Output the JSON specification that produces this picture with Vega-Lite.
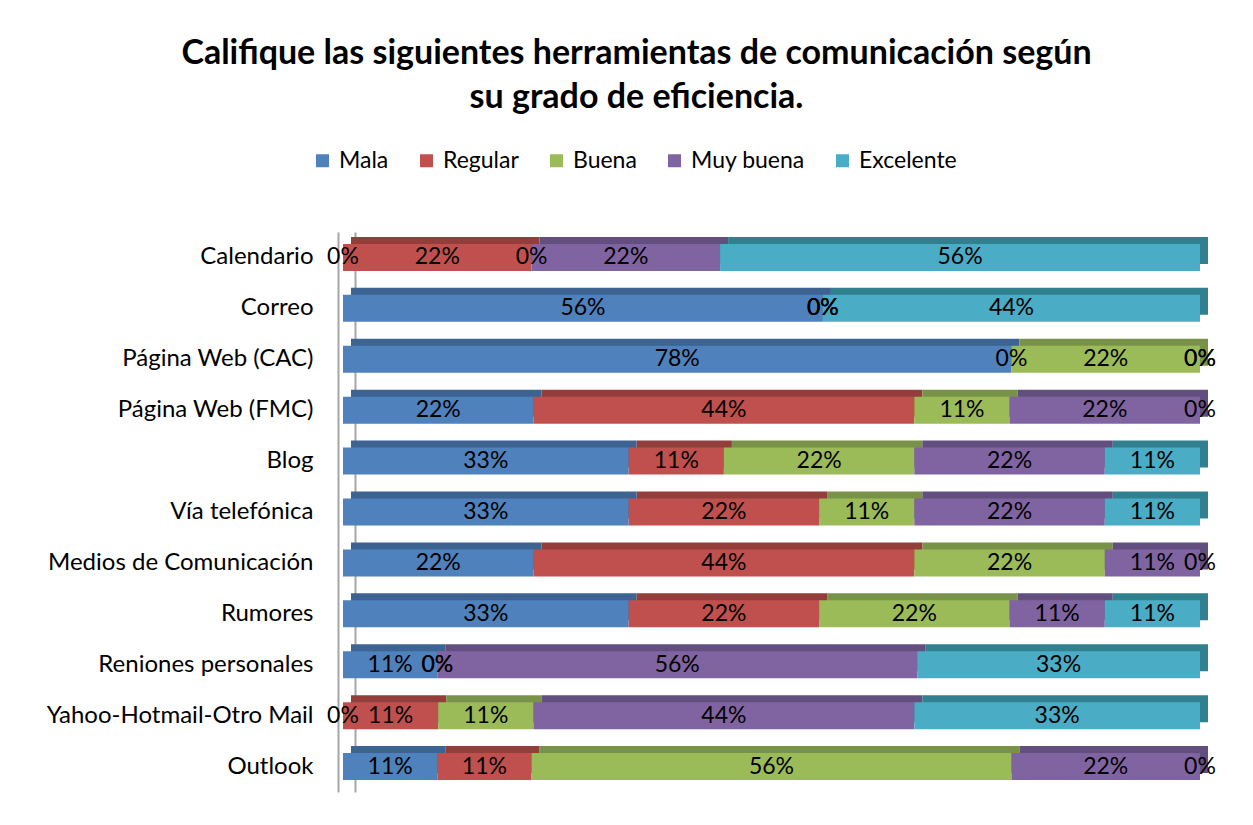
{
  "$schema": "https://vega.github.io/schema/vega-lite/v6.json",
  "autosize": {"type": "none"},
  "padding": {"left": 343, "top": 232, "right": 53, "bottom": 33},
  "width": 857,
  "height": 560,
  "background": "white",
  "title": {
    "text": ["Califique las siguientes herramientas de comunicación según", "su grado de eficiencia."],
    "font": "Lato",
    "fontSize": 34,
    "fontWeight": "bold",
    "color": "black",
    "anchor": "middle",
    "frame": "group",
    "dx": -135,
    "offset": 34,
    "lineHeight": 44
  },
  "config": {
    "view": {"stroke": null},
    "font": "Lato"
  },
  "data": {
    "values": [
      {"h": "Calendario", "r": "Mala", "v": 0},
      {"h": "Calendario", "r": "Regular", "v": 0.22},
      {"h": "Calendario", "r": "Buena", "v": 0},
      {"h": "Calendario", "r": "Muy buena", "v": 0.22},
      {"h": "Calendario", "r": "Excelente", "v": 0.56},
      {"h": "Correo", "r": "Mala", "v": 0.56},
      {"h": "Correo", "r": "Regular", "v": 0},
      {"h": "Correo", "r": "Buena", "v": 0},
      {"h": "Correo", "r": "Muy buena", "v": 0},
      {"h": "Correo", "r": "Excelente", "v": 0.44},
      {"h": "Página Web (CAC)", "r": "Mala", "v": 0.78},
      {"h": "Página Web (CAC)", "r": "Regular", "v": 0},
      {"h": "Página Web (CAC)", "r": "Buena", "v": 0.22},
      {"h": "Página Web (CAC)", "r": "Muy buena", "v": 0},
      {"h": "Página Web (CAC)", "r": "Excelente", "v": 0},
      {"h": "Página Web (FMC)", "r": "Mala", "v": 0.22},
      {"h": "Página Web (FMC)", "r": "Regular", "v": 0.44},
      {"h": "Página Web (FMC)", "r": "Buena", "v": 0.11},
      {"h": "Página Web (FMC)", "r": "Muy buena", "v": 0.22},
      {"h": "Página Web (FMC)", "r": "Excelente", "v": 0},
      {"h": "Blog", "r": "Mala", "v": 0.33},
      {"h": "Blog", "r": "Regular", "v": 0.11},
      {"h": "Blog", "r": "Buena", "v": 0.22},
      {"h": "Blog", "r": "Muy buena", "v": 0.22},
      {"h": "Blog", "r": "Excelente", "v": 0.11},
      {"h": "Vía telefónica", "r": "Mala", "v": 0.33},
      {"h": "Vía telefónica", "r": "Regular", "v": 0.22},
      {"h": "Vía telefónica", "r": "Buena", "v": 0.11},
      {"h": "Vía telefónica", "r": "Muy buena", "v": 0.22},
      {"h": "Vía telefónica", "r": "Excelente", "v": 0.11},
      {"h": "Medios de Comunicación ", "r": "Mala", "v": 0.22},
      {"h": "Medios de Comunicación ", "r": "Regular", "v": 0.44},
      {"h": "Medios de Comunicación ", "r": "Buena", "v": 0.22},
      {"h": "Medios de Comunicación ", "r": "Muy buena", "v": 0.11},
      {"h": "Medios de Comunicación ", "r": "Excelente", "v": 0},
      {"h": "Rumores", "r": "Mala", "v": 0.33},
      {"h": "Rumores", "r": "Regular", "v": 0.22},
      {"h": "Rumores", "r": "Buena", "v": 0.22},
      {"h": "Rumores", "r": "Muy buena", "v": 0.11},
      {"h": "Rumores", "r": "Excelente", "v": 0.11},
      {"h": "Reniones personales", "r": "Mala", "v": 0.11},
      {"h": "Reniones personales", "r": "Regular", "v": 0},
      {"h": "Reniones personales", "r": "Buena", "v": 0},
      {"h": "Reniones personales", "r": "Muy buena", "v": 0.56},
      {"h": "Reniones personales", "r": "Excelente", "v": 0.33},
      {"h": "Yahoo-Hotmail-Otro Mail", "r": "Mala", "v": 0},
      {"h": "Yahoo-Hotmail-Otro Mail", "r": "Regular", "v": 0.11},
      {"h": "Yahoo-Hotmail-Otro Mail", "r": "Buena", "v": 0.11},
      {"h": "Yahoo-Hotmail-Otro Mail", "r": "Muy buena", "v": 0.44},
      {"h": "Yahoo-Hotmail-Otro Mail", "r": "Excelente", "v": 0.33},
      {"h": "Outlook ", "r": "Mala", "v": 0.11},
      {"h": "Outlook ", "r": "Regular", "v": 0.11},
      {"h": "Outlook ", "r": "Buena", "v": 0.56},
      {"h": "Outlook ", "r": "Muy buena", "v": 0.22},
      {"h": "Outlook ", "r": "Excelente", "v": 0}
    ]
  },
  "transform": [
    {"calculate": "indexof(['Mala','Regular','Buena','Muy buena','Excelente'], datum.r)", "as": "ord"},
    {"stack": "v", "groupby": ["h"], "sort": [{"field": "ord", "order": "ascending"}], "offset": "normalize", "as": ["s0", "s1"]},
    {"calculate": "(datum.s0 + datum.s1) / 2", "as": "mid"}
  ],
  "layer": [
    {
      "mark": {"type": "bar", "xOffset": 8, "yOffset": -7, "x2Offset": 8},
      "encoding": {
        "y": {
          "field": "h",
          "type": "nominal",
          "sort": null,
          "scale": {"paddingInner": 0.47, "paddingOuter": 0.235},
          "axis": {
            "title": null,
            "orient": "left",
            "ticks": false,
            "domain": true,
            "domainColor": "#a6a6a6",
            "domainWidth": 2,
            "offset": 5,
            "labelFont": "Lato",
            "labelFontSize": 24,
            "labelColor": "black",
            "labelPadding": 25,
            "labelLimit": 400
          }
        },
        "x": {"field": "s0", "type": "quantitative", "scale": {"domain": [0, 1]}, "axis": null},
        "x2": {"field": "s1"},
        "color": {
          "field": "r",
          "type": "nominal",
          "scale": {"domain": ["Mala", "Regular", "Buena", "Muy buena", "Excelente"], "range": ["#3c6392", "#943e3c", "#789247", "#634e80", "#31808f"]},
          "legend": null
        }
      }
    },
    {
      "mark": {"type": "bar"},
      "encoding": {
        "y": {
          "field": "h",
          "type": "nominal",
          "sort": null,
          "axis": {
            "title": null,
            "orient": "left",
            "ticks": false,
            "labels": false,
            "domain": true,
            "domainColor": "#a6a6a6",
            "domainWidth": 2,
            "offset": -12
          }
        },
        "x": {"field": "s0", "type": "quantitative"},
        "x2": {"field": "s1"},
        "color": {
          "field": "r",
          "type": "nominal",
          "scale": {"domain": ["Mala", "Regular", "Buena", "Muy buena", "Excelente"], "range": ["#4f81bd", "#c0504d", "#9bbb59", "#8064a2", "#4bacc6"]},
          "legend": {
            "title": null,
            "orient": "none",
            "direction": "horizontal",
            "legendX": -32,
            "legendY": -83,
            "symbolType": "square",
            "symbolSize": 169,
            "symbolStrokeWidth": 0,
            "symbolOpacity": 1,
            "labelFont": "Lato",
            "labelFontSize": 23,
            "labelColor": "black",
            "labelOffset": 5,
            "columnPadding": 26,
            "labelLimit": 300
          }
        }
      }
    },
    {
      "mark": {"type": "text", "font": "Lato", "fontSize": 23, "color": "black", "baseline": "middle", "align": "center"},
      "encoding": {
        "y": {"field": "h", "type": "nominal", "sort": null, "axis": null},
        "x": {"field": "mid", "type": "quantitative"},
        "text": {"field": "v", "type": "quantitative", "format": ".0%"}
      }
    }
  ],
  "resolve": {"scale": {"color": "independent"}, "axis": {"y": "independent"}}
}
